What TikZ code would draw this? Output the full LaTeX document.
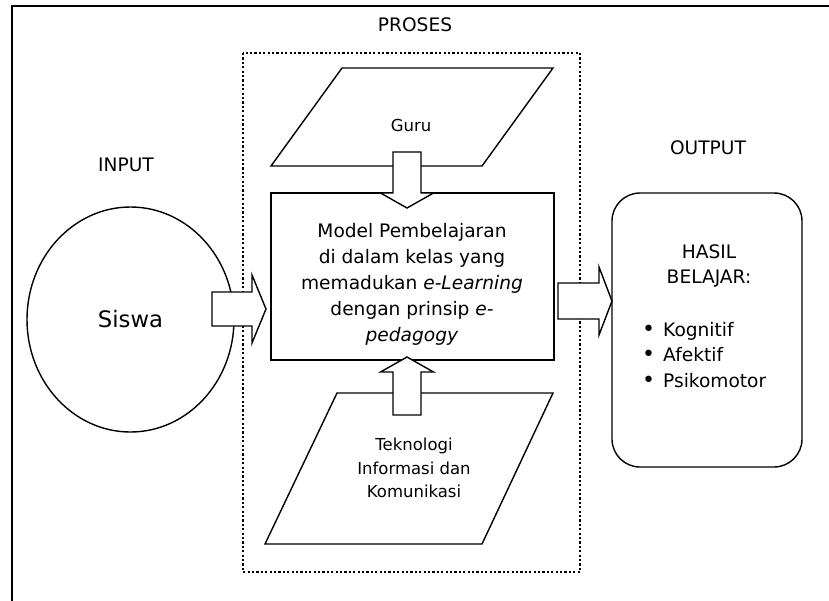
\documentclass[tikz,border=0pt]{standalone}
\usepackage{fontspec}
\setmainfont{DejaVu Sans}
\usetikzlibrary{shapes.geometric}
\begin{document}
\begin{tikzpicture}[x=1pt,y=-1pt,
  outl/.style={draw, line width=1.4pt, line join=miter},
  blockarr/.style={draw, line width=1.4pt, fill=white, line join=miter},
  dotbox/.style={line width=2.6pt, dash pattern=on 2.2pt off 2.2pt},
  big/.style={font=\fontsize{18.6}{26}\selectfont, inner sep=0pt},
  small/.style={font=\fontsize{16.5}{23.5}\selectfont, inner sep=0pt},
  huge/.style={font=\fontsize{22.7}{28}\selectfont}
]
\useasboundingbox (0,0) rectangle (829,600);
\fill[white] (0,0) rectangle (829,600);
% outer frame (only top and left visible)
\draw[line width=2.2pt] (12,601) -- (12,6) -- (830,6);
% process box
\draw[dotbox] (243,53) rectangle (580,572);
\node[big] (proses) at (415,25) {PROSES};
\node[big] (input) at (126,165) {INPUT};
\node[big] (output) at (708,148) {OUTPUT};
% input
\node[outl, ellipse, minimum width=207pt, minimum height=225pt, inner sep=0pt, huge] (siswa) at (130.5,319.5) {Siswa};
% guru
\draw[outl] (342,68) -- (553,68) -- (482,166) -- (271,166) -- cycle;
\node[small] (guru) at (411,125) {Guru};
% model
\node[outl, minimum width=283pt, minimum height=167pt, inner sep=0pt] (model) at (412.5,276.5) {};
\node[big, align=center] (modeltext) at (412,284) {Model Pembelajaran\\di dalam kelas yang\\memadukan \textit{e-Learning}\\dengan prinsip \textit{e-}\\\textit{pedagogy}};
% TIK
\draw[outl] (337,393) -- (553,393) -- (482,544) -- (265,544) -- cycle;
\node[small, align=center] (tik) at (414,468) {Teknologi\\Informasi dan\\Komunikasi};
% output
\node[outl, rounded corners=28pt, minimum width=190pt, minimum height=274pt, inner sep=0pt] (hasil) at (707,330) {};
\node[big, align=center, font=\fontsize{18.6}{25}\selectfont] (hasiltext) at (709,265.5) {HASIL\\BELAJAR:};
\node[big, align=left, anchor=west, font=\fontsize{18.6}{25.5}\selectfont] (list) at (642,355) {\makebox[21pt][l]{\fontsize{22}{25.5}\selectfont\textbullet}Kognitif\\\makebox[21pt][l]{\fontsize{22}{25.5}\selectfont\textbullet}Afektif\\\makebox[21pt][l]{\fontsize{22}{25.5}\selectfont\textbullet}Psikomotor};
% block arrows
\draw[blockarr] (212,292) -- (252,292) -- (252,275) -- (266,309) -- (252,343) -- (252,326) -- (212,326) -- cycle;
\draw[blockarr] (558,283) -- (599,283) -- (599,267) -- (612,301) -- (599,335) -- (599,319) -- (558,319) -- cycle;
\draw[blockarr] (393,152) -- (421,152) -- (421,193) -- (433.5,193) -- (407,208) -- (380.5,193) -- (393,193) -- cycle;
\draw[blockarr] (393,415) -- (393,372) -- (380.5,372) -- (407,357) -- (433.5,372) -- (421,372) -- (421,415) -- cycle;
\end{tikzpicture}
\end{document}
